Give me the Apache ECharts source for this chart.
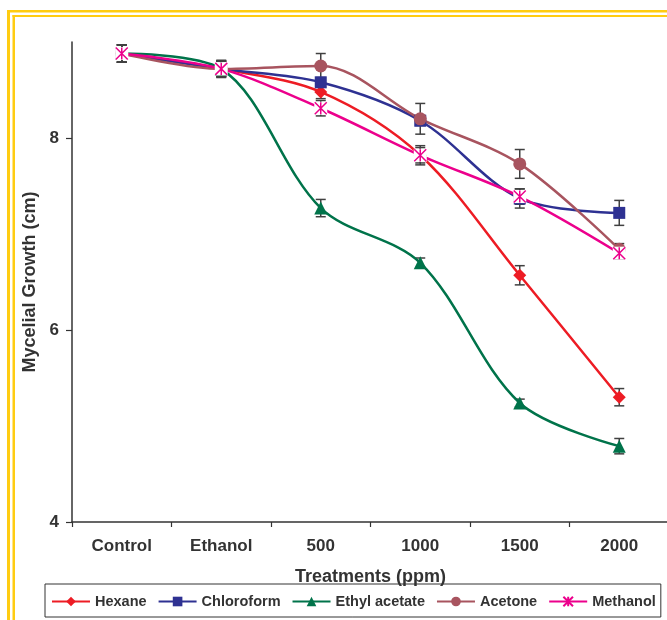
<!DOCTYPE html>
<html>
<head>
<meta charset="utf-8">
<script src="https://cdn.jsdelivr.net/npm/echarts@6.0.0/dist/echarts.min.js"></script>
<style>
html,body{margin:0;padding:0;background:#fff;}
#chart{width:667px;height:620px;}
</style>
</head>
<body>
<div id="chart"></div>
<script>
const categories = ['Control', 'Ethanol', '500', '1000', '1500', '2000'];
const yTicks = [4, 6, 8];

const hexane       = [8.88, 8.72, 8.48, 7.82, 6.57, 5.30];
const chloroform   = [8.88, 8.72, 8.58, 8.18, 7.37, 7.22];
const ethylAcetate = [8.88, 8.72, 7.27, 6.70, 5.24, 4.79];
const acetone      = [8.88, 8.72, 8.75, 8.20, 7.73, 6.84];
const methanol     = [8.88, 8.72, 8.31, 7.82, 7.39, 6.80];

const hexaneErr       = [0.09, 0.08, 0.07, 0.08, 0.10, 0.09];
const chloroformErr   = [0.09, 0.08, 0.05, 0.05, 0.10, 0.13];
const ethylAcetateErr = [0.09, 0.08, 0.09, 0.05, 0.04, 0.08];
const acetoneErr      = [0.09, 0.08, 0.13, 0.16, 0.15, 0.06];
const methanolErr     = [0.09, 0.09, 0.08, 0.10, 0.08, 0.06];

const FONT = 'Liberation Sans, Arial, sans-serif';
const TXT = '#333333';
const SMOOTH = 0.33;

const colors = {
  hexane: '#ED1C24',
  chloroform: '#2E3192',
  ethyl: '#00734A',
  acetone: '#A8545F',
  methanol: '#EC008C'
};

const asterisk = 'path://M0,0L10,10M10,0L0,10M5,0L5,10';

function errData(vals, errs) {
  return vals.map((v, i) => [i, v, errs[i]]);
}
const allErr = []
  .concat(errData(hexane, hexaneErr))
  .concat(errData(chloroform, chloroformErr))
  .concat(errData(ethylAcetate, ethylAcetateErr))
  .concat(errData(acetone, acetoneErr))
  .concat(errData(methanol, methanolErr));

function renderErr(params, api) {
  const x = api.value(0), y = api.value(1), e = api.value(2);
  const top = api.coord([x, y + e]);
  const bot = api.coord([x, y - e]);
  const w = 5;
  const st = { stroke: '#404040', lineWidth: 1.5 };
  return {
    type: 'group',
    children: [
      { type: 'line', shape: { x1: top[0], y1: top[1], x2: bot[0], y2: bot[1] }, style: st },
      { type: 'line', shape: { x1: top[0] - w, y1: top[1], x2: top[0] + w, y2: top[1] }, style: st },
      { type: 'line', shape: { x1: bot[0] - w, y1: bot[1], x2: bot[0] + w, y2: bot[1] }, style: st }
    ]
  };
}

function lineSeries(name, data, color, symbol, size) {
  return {
    name: name,
    type: 'line',
    data: data,
    smooth: SMOOTH,
    symbol: symbol,
    symbolSize: size,
    showSymbol: true,
    lineStyle: { color: color, width: 2.5 },
    itemStyle: { color: color },
    emphasis: { disabled: true },
    animation: false
  };
}

const chart = echarts.init(document.getElementById('chart'));
chart.setOption({
  animation: false,
  backgroundColor: '#ffffff',
  graphic: [
    { type: 'rect', shape: { x: 7, y: 10, width: 3, height: 610 }, style: { fill: '#FFCC11' } },
    { type: 'rect', shape: { x: 7, y: 10, width: 660, height: 2.5 }, style: { fill: '#FFCC11' } },
    { type: 'rect', shape: { x: 12.5, y: 15, width: 2.5, height: 605 }, style: { fill: '#FFCC11' } },
    { type: 'rect', shape: { x: 12.5, y: 15, width: 655, height: 2 }, style: { fill: '#FFCC11' } }
  ],
  grid: {
    left: 72, top: 42, right: -2, bottom: 98,
    containLabel: false,
    outerBoundsMode: 'none'
  },
  legend: {
    left: 45, top: 584,
    width: 640,
    orient: 'horizontal',
    data: ['Hexane', 'Chloroform', 'Ethyl acetate', 'Acetone', 'Methanol'],
    borderColor: '#333333',
    borderWidth: 1,
    borderRadius: 0,
    padding: [10, 5, 8, 6],
    itemGap: 11,
    itemWidth: 38,
    itemHeight: 12,
    selectedMode: false,
    textStyle: { fontFamily: FONT, fontSize: 14.5, fontWeight: 'bold', color: TXT }
  },
  xAxis: {
    type: 'category',
    data: categories,
    boundaryGap: true,
    name: 'Treatments (ppm)',
    nameLocation: 'middle',
    nameGap: 46,
    nameTextStyle: { fontFamily: FONT, fontSize: 18, fontWeight: 'bold', color: TXT },
    axisLine: { lineStyle: { color: '#333333', width: 1.5 } },
    axisTick: { show: true, length: 5, interval: 0, lineStyle: { color: '#333333', width: 1.2 } },
    axisLabel: { interval: 0, margin: 16, fontFamily: FONT, fontSize: 17, fontWeight: 'bold', color: TXT },
    splitLine: { show: false }
  },
  yAxis: {
    type: 'value',
    min: 4, max: 9, interval: 2,
    name: 'Mycelial Growth (cm)',
    nameLocation: 'middle',
    nameGap: 29,
    nameTextStyle: { fontFamily: FONT, fontSize: 18, fontWeight: 'bold', color: TXT },
    axisLine: { show: true, lineStyle: { color: '#333333', width: 1.5 } },
    axisTick: { show: true, length: 6, customValues: yTicks, lineStyle: { color: '#333333', width: 1.2 } },
    axisLabel: { margin: 13, customValues: yTicks, fontFamily: FONT, fontSize: 17, fontWeight: 'bold', color: TXT },
    splitLine: { show: false }
  },
  series: [
    {
      name: 'errors',
      type: 'custom',
      data: allErr,
      encode: { x: 0, y: 1 },
      renderItem: renderErr,
      silent: true,
      animation: false
    },
    lineSeries('Hexane', hexane, colors.hexane, 'diamond', 13),
    lineSeries('Chloroform', chloroform, colors.chloroform, 'rect', 12),
    lineSeries('Ethyl acetate', ethylAcetate, colors.ethyl, 'triangle', 13),
    lineSeries('Acetone', acetone, colors.acetone, 'circle', 13),
    {
      name: 'Methanol',
      type: 'line',
      data: methanol,
      smooth: SMOOTH,
      symbol: asterisk,
      symbolSize: 12,
      showSymbol: false,
      lineStyle: { color: colors.methanol, width: 2.5 },
      itemStyle: { color: 'rgba(0,0,0,0)', borderColor: colors.methanol, borderWidth: 1.5 },
      emphasis: { disabled: true },
      animation: false
    },
    {
      name: 'mBack',
      type: 'line',
      data: methanol,
      symbol: 'rect',
      symbolSize: 13,
      showSymbol: true,
      lineStyle: { opacity: 0, width: 0 },
      itemStyle: { color: '#ffffff' },
      silent: true,
      emphasis: { disabled: true },
      animation: false
    },
    {
      name: 'mMarks',
      type: 'line',
      data: methanol,
      symbol: asterisk,
      symbolSize: 12,
      showSymbol: true,
      lineStyle: { opacity: 0, width: 0 },
      itemStyle: { color: 'rgba(0,0,0,0)', borderColor: colors.methanol, borderWidth: 1.5 },
      silent: true,
      emphasis: { disabled: true },
      animation: false
    }
  ]
});
</script>
</body>
</html>
